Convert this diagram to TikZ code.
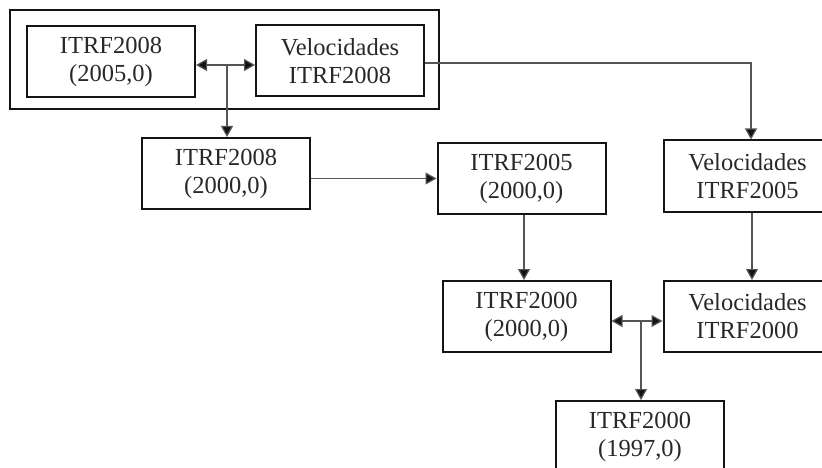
\documentclass[tikz,border=0pt]{standalone}
\usepackage{fontspec}
\setmainfont{Liberation Serif}
\usepackage{xcolor}
\usetikzlibrary{arrows.meta}
\definecolor{boxline}{RGB}{20,20,20}
\definecolor{linkline}{RGB}{85,85,85}
\definecolor{textgray}{RGB}{40,40,40}

\begin{document}
\begin{tikzpicture}[x=1pt, y=-1pt,
  box/.style={rectangle, draw=boxline, line width=2pt, minimum width=168pt, minimum height=71pt, align=center, text=textgray, font=\fontsize{24.5}{28}\selectfont},
  groupbox/.style={rectangle, draw=boxline, line width=2pt, minimum width=429pt, minimum height=99pt},
  arrow/.style={-{Triangle[length=11pt, width=12pt, fill=boxline]}, draw=linkline, line width=1.2pt},
  link/.style={draw=linkline, line width=1.2pt}
]
\clip (0,0) rectangle (822,468);

% Group with 2008 frame
\node[groupbox] (group) at (224.5,59.5) {};
\node[box] (itrf08a) at (111,61.5) {ITRF2008\\(2005,0)};
\node[box] (vel08) at (340,61) {Velocidades\\ITRF2008};

% Second row
\node[box] (itrf08b) at (226,173.5) {ITRF2008\\(2000,0)};
\node[box] (itrf05) at (521.5,178.5) {ITRF2005\\(2000,0)};
\node[box] (vel05) at (747.5,176) {Velocidades\\ITRF2005};

% Third row
\node[box] (itrf00a) at (526.5,316.5) {ITRF2000\\(2000,0)};
\node[box] (vel00) at (747.5,316.5) {Velocidades\\ITRF2000};

% Last
\node[box] (itrf00b) at (640,436.5) {ITRF2000\\(1997,0)};

% Split points
\coordinate (split1) at (227,65);
\coordinate (split2) at (641,321);
\coordinate (turn1) at (751,63);

% Arrows
\draw[arrow] (split1) -- (itrf08a.east |- split1);
\draw[arrow] (split1) -- (vel08.west |- split1);
\draw[arrow] (split1) -- (split1 |- itrf08b.north);

\draw[arrow] (vel08.east |- turn1) -- (turn1) -- (turn1 |- vel05.north);
\draw[arrow] (itrf08b.east |- itrf05) -- (itrf05.west);

\draw[arrow] ([xshift=2.5pt]itrf05.south) -- ([xshift=2.5pt]itrf05.south |- itrf00a.north);
\draw[arrow] ([xshift=4.5pt]vel05.south) -- ([xshift=4.5pt]vel00.north);

\draw[arrow] (split2) -- (itrf00a.east |- split2);
\draw[arrow] (split2) -- (vel00.west |- split2);
\draw[arrow] (split2) -- (split2 |- itrf00b.north);

\end{tikzpicture}
\end{document}
